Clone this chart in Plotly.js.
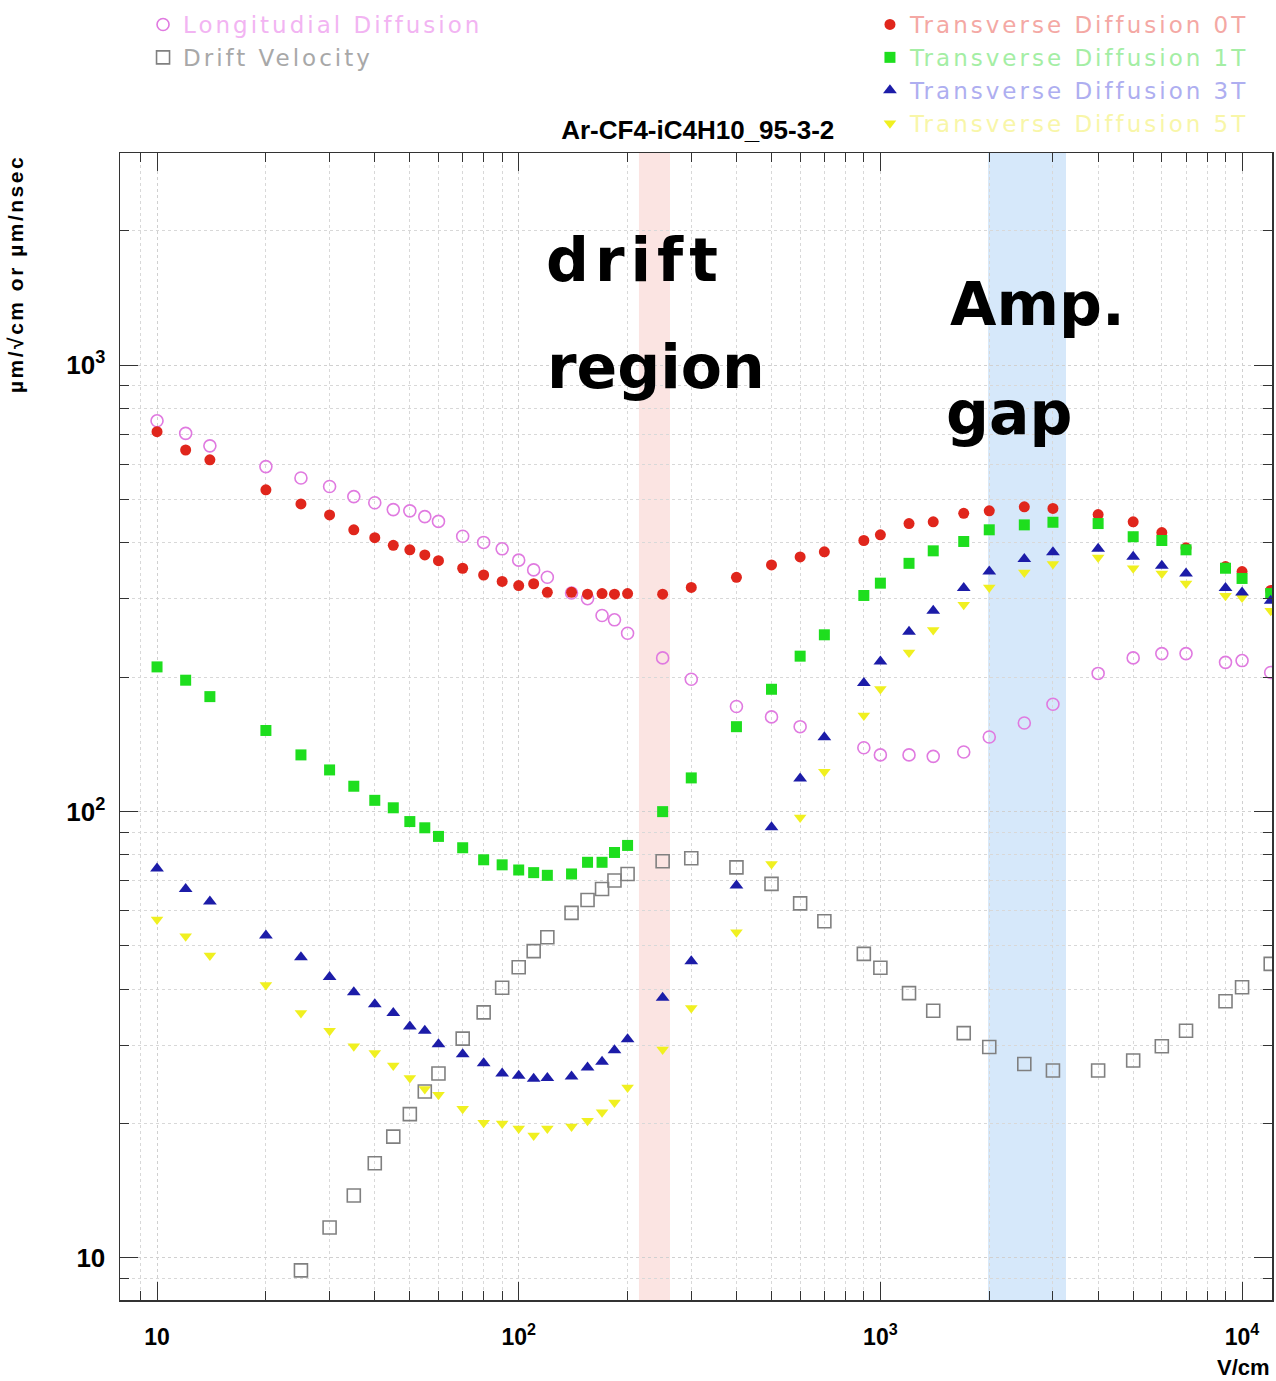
<!DOCTYPE html>
<html>
<head>
<meta charset="utf-8">
<script src="https://cdn.plot.ly/plotly-3.0.1.min.js"></script>
<style>html,body{margin:0;padding:0;background:#fff;}#chart{width:1276px;height:1381px;}</style>
</head>
<body>
<div id="chart"></div>
<script>
// Electric field values (V/cm)
const fields = [10,12,14,20,25,30,35,40,45,50,55,60,70,80,90,100,110,120,140,155,170,184,200,250,300,400,500,600,700,900,1000,1200,1400,1700,2000,2500,3000,4000,5000,6000,7000,9000,10000,12000];

// Longitudinal diffusion (um/sqrt(cm))
const longDiff = [751,704,660,593,559,535,508,492,475,472,458,447,414,401,388,366,348,335,309,300,275,269,251,221,198,172,163,155,null,139,134,134,133,136,147,158,174,204,221,226,226,216,218,205];
// Drift velocity (um/nsec)
const driftVel = [null,null,null,null,9.38,11.7,13.8,16.3,18.7,21.0,23.6,25.9,31.0,35.5,40.3,44.8,48.7,52.3,59.3,63.4,67.1,70.1,72.5,77.4,78.6,75.0,68.9,62.3,56.8,48.0,44.7,39.2,35.8,31.9,29.7,27.2,26.3,26.3,27.7,29.8,32.3,37.6,40.4,45.6];
// Transverse diffusion at 0T, 1T, 3T, 5T
const trans0T = [710,646,614,526,489,462,428,411,395,386,376,365,351,339,328,321,324,310,310,307,308,307,308,307,318,335,357,372,382,405,417,442,446,466,472,482,478,463,446,422,390,354,345,313];
const trans1T = [211,197,181,152,134,124,114,106,102,95,92,88,83,78,76,74,73,72,72.5,77,77,81,84,100,119,155,188,223,249,305,325,360,384,403,428,439,445,442,413,405,386,351,333,308];
const trans3T = [74.6,67.1,62.9,52.8,47.2,42.6,39.4,37.0,35.4,33.0,32.3,30.1,28.6,27.3,25.9,25.6,25.2,25.3,25.5,26.7,27.5,29.2,30.9,38.3,46.2,68.3,92.2,118.6,146.7,194.3,217,253,282,317,345,368,381,388,372.5,355.6,341.8,317,309.8,296.9];
const trans5T = [57.3,52.6,47.6,40.9,35.4,32.3,29.8,28.8,27.0,25.3,23.9,23.2,21.6,20.1,20.0,19.5,18.8,19.5,19.7,20.3,21.2,22.3,24.1,29.3,36.3,53.7,76.3,97.0,122.9,164.1,188.3,227.4,255.3,290.8,318,343.6,358.8,371.2,351,341.8,324.6,304.6,302.0,282.0];

// Highlighted field regions (V/cm)
const driftRegion = [215, 262];
const ampGap = [1985, 3260];

const xTickVals = [10,100,1000,10000];
const xTickText = ['10','10<sup>2</sup>','10<sup>3</sup>','10<sup>4</sup>'];
const yTickVals = [10,100,1000];
const yTickText = ['10','10<sup>2</sup>','10<sup>3</sup>'];

function minorVals(lo, hi){
  const out=[];
  for(let d=lo; d<=hi; d*=10){ for(let m=2;m<=9;m++){ out.push(m*d); } }
  return out;
}
const xMinor = [9].concat(minorVals(10,1000));
const yMinor = [9].concat(minorVals(10,100)).concat([2000]);

function legName(txt, col){ return '<span style="color:'+col+';letter-spacing:3px">'+txt+'</span>'; }

const legFont = {family:'DejaVu Sans', size:23};
const traces = [
  {x:fields, y:longDiff, name:legName('Longitudial Diffusion','#f2b4f2'), mode:'markers', legend:'legend', legendrank:1,
   marker:{symbol:'circle-open', size:12, color:'#e07ae0', line:{width:1.6, color:'#e07ae0'}}},
  {x:fields, y:trans0T, name:legName('Transverse Diffusion 0T','#f4a8a4'), mode:'markers', legend:'legend2', legendrank:1,
   marker:{symbol:'circle', size:11, color:'#e0261c'}},
  {x:fields, y:trans1T, name:legName('Transverse Diffusion 1T','#a4eea4'), mode:'markers', legend:'legend2', legendrank:2,
   marker:{symbol:'square', size:11, color:'#1ede1e'}},
  {x:fields, y:trans5T, name:legName('Transverse Diffusion 5T','#f8f6a8'), mode:'markers', legend:'legend2', legendrank:4,
   marker:{symbol:'triangle-down', size:11, color:'#f0f020'}},
  {x:fields, y:trans3T, name:legName('Transverse Diffusion 3T','#aeaef0'), mode:'markers', legend:'legend2', legendrank:3,
   marker:{symbol:'triangle-up', size:12, color:'#1c1ca8'}},
  {x:fields, y:driftVel, name:legName('Drift Velocity','#a8a8a8'), mode:'markers', legend:'legend', legendrank:2,
   marker:{symbol:'square-open', size:13, color:'#808080', line:{width:1.6, color:'#808080'}}}
];

const axisCommon = {
  type:'log', showline:true, linecolor:'#333', linewidth:1.5, mirror:'allticks',
  ticks:'inside', ticklen:18, tickwidth:1, tickcolor:'#333',
  showgrid:true, gridcolor:'#d0d0d0', griddash:'dot', gridwidth:1,
  zeroline:false, tickmode:'array'
};

const bigFont = {family:'DejaVu Sans', size:60, weight:'bold', color:'#000'};

const layout = {
  width:1276, height:1381,
  margin:{l:120, r:4, t:152, b:81},
  paper_bgcolor:'#fff', plot_bgcolor:'#fff',
  title:{text:'Ar-CF4-iC4H10_95-3-2', x:0.5015, xref:'paper', y:1-130/1381, yref:'container', yanchor:'middle', xanchor:'center',
    font:{family:'Liberation Sans', size:26, weight:'bold', color:'#000'}},
  xaxis: Object.assign({}, axisCommon, {
    range:[Math.log10(7.9), Math.log10(12100)],
    tickvals:xTickVals, ticktext:xTickText, ticklabelstandoff:16,
    tickfont:{family:'Liberation Sans', size:23, weight:'bold', color:'#000'},
    minor:{tickmode:'array', tickvals:xMinor, ticks:'inside', ticklen:9, tickcolor:'#333', showgrid:true, gridcolor:'#d8d8d8', griddash:'dot', gridwidth:1}
  }),
  yaxis: Object.assign({}, axisCommon, {
    range:[Math.log10(8.05), Math.log10(2990)],
    tickvals:yTickVals, ticktext:yTickText, ticklabelstandoff:8,
    tickfont:{family:'Liberation Sans', size:26, weight:'bold', color:'#000'},
    minor:{tickmode:'array', tickvals:yMinor, ticks:'inside', ticklen:9, tickcolor:'#333', showgrid:true, gridcolor:'#d8d8d8', griddash:'dot', gridwidth:1}
  }),
  legend:{x:0.02, y:1+(152-3)/1148, xanchor:'left', yanchor:'top', bgcolor:'rgba(0,0,0,0)', borderwidth:0, font:legFont, traceorder:'normal'},
  legend2:{x:0.651, y:1+(152-3)/1148, xanchor:'left', yanchor:'top', bgcolor:'rgba(0,0,0,0)', borderwidth:0, font:legFont, traceorder:'normal'},
  shapes:[
    {type:'rect', xref:'x', yref:'paper', x0:driftRegion[0], x1:driftRegion[1], y0:0, y1:1, fillcolor:'#fbe4e2', line:{width:0}, layer:'below'},
    {type:'rect', xref:'x', yref:'paper', x0:ampGap[0], x1:ampGap[1], y0:0, y1:1, fillcolor:'#d6e8fa', line:{width:0}, layer:'below'}
  ],
  annotations:[
    {text:'<span style="letter-spacing:6px">drift</span>', xref:'paper', yref:'paper', x:(544-120)/1152, y:1-(259-152)/1148, xanchor:'left', yanchor:'middle', showarrow:false, font:bigFont},
    {text:'region', xref:'paper', yref:'paper', x:(545-120)/1152, y:1-(366-152)/1148, xanchor:'left', yanchor:'middle', showarrow:false, font:bigFont},
    {text:'Amp.', xref:'paper', yref:'paper', x:(948-120)/1152, y:1-(303-152)/1148, xanchor:'left', yanchor:'middle', showarrow:false, font:bigFont},
    {text:'gap', xref:'paper', yref:'paper', x:(944-120)/1152, y:1-(412-152)/1148, xanchor:'left', yanchor:'middle', showarrow:false, font:bigFont},
    {text:'<span style="letter-spacing:2.5px">µm/√cm or µm/nsec</span>', xref:'paper', yref:'paper', x:(15-120)/1152, y:1, xanchor:'center', yanchor:'top', textangle:-90, showarrow:false,
     font:{family:'Liberation Sans', size:21, weight:'bold', color:'#000'}},
    {text:'V/cm', xref:'paper', yref:'paper', x:1, y:-(1368-1300)/1148, xanchor:'right', yanchor:'middle', showarrow:false,
     font:{family:'Liberation Sans', size:22, weight:'bold', color:'#000'}}
  ]
};

Plotly.newPlot('chart', traces, layout, {displayModeBar:false, staticPlot:true});
</script>
</body>
</html>
